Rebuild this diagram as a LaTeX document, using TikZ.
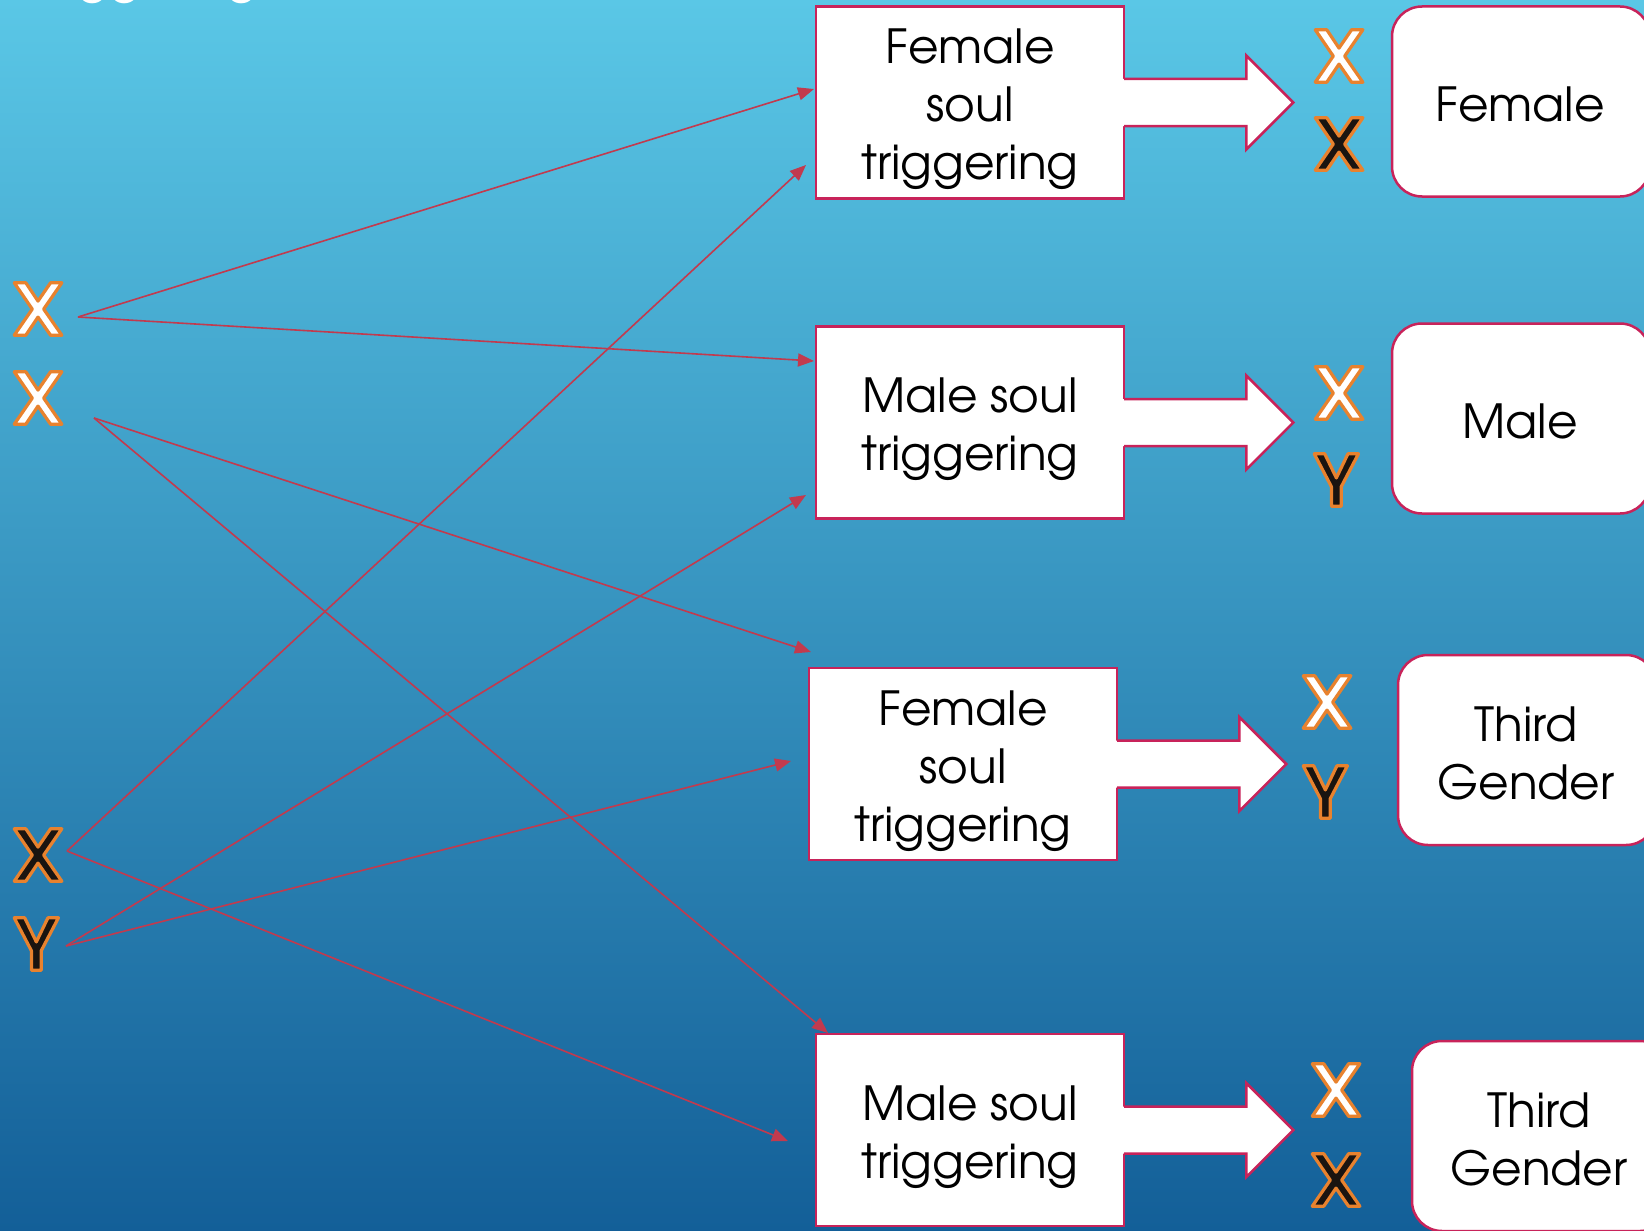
\documentclass[tikz,border=0pt]{standalone}
\usepackage{fontspec}
\setmainfont{TeX Gyre Adventor}
\usetikzlibrary{arrows.meta,calc}
\definecolor{bgtop}{HTML}{5AC7E6}
\definecolor{bgbot}{HTML}{135F98}
\definecolor{crim}{HTML}{C8235A}
\definecolor{lred}{HTML}{C23A4E}
\definecolor{lorange}{HTML}{E8822E}
\definecolor{pblack}{HTML}{1A1410}
\newcommand\outl[1]{\special{pdf:literal direct 2 Tr 3.2 w 1 j 0.91 0.51 0.18 RG}#1\special{pdf:literal direct 0 Tr}}
\newcommand\blockarrow[1]{%
  \fill[white] ($(#1.east)+(-4,-23.5)$) -- ($(#1.east)+(121,-23.5)$) -- ($(#1.east)+(121,-47)$) -- ($(#1.east)+(168,0)$) -- ($(#1.east)+(121,47)$) -- ($(#1.east)+(121,23.5)$) -- ($(#1.east)+(-4,23.5)$) -- cycle;
  \draw[blk] ($(#1.east)+(-1.25,-23.5)$) -- ($(#1.east)+(121,-23.5)$) -- ($(#1.east)+(121,-47)$) -- ($(#1.east)+(168,0)$) -- ($(#1.east)+(121,47)$) -- ($(#1.east)+(121,23.5)$) -- ($(#1.east)+(-1.25,23.5)$);}
\begin{document}
\begin{tikzpicture}[x=1pt,y=-1pt,
  sbox/.style={draw=crim,line width=2.5pt,fill=white,minimum width=308pt,minimum height=192pt,inner sep=0pt},
  btext/.style={align=center,font=\fontsize{47}{58}\selectfont,inner sep=0pt},
  rbox/.style={sbox,rounded corners=30pt,minimum width=258pt,minimum height=190pt},
  wl/.style={inner sep=0pt,font=\fontsize{71}{71}\selectfont\bfseries,text=white},
  bl/.style={wl,text=pblack},
  conn/.style={draw=lred,line width=1.6pt,-{Triangle[length=16pt,width=13pt]}},
  blk/.style={draw=crim,line width=2.5pt,line join=miter}
]
\useasboundingbox (0,0) rectangle (1644,1231);
\clip (0,0) rectangle (1644,1231);
\shade[top color=bgtop,bottom color=bgbot] (0,0) rectangle (1644,1231);

\node[anchor=base west,text=white,font=\fontsize{48}{48}\selectfont,inner sep=0pt] (ttl) at (36,-6) {triggering};

% boxes
\node[sbox] (b1) at (970,102.5) {};
\node[sbox] (b2) at (970,422.5) {};
\node[sbox] (b3) at (963,764) {};
\node[sbox] (b4) at (970,1130) {};
\node[btext] (t1) at ($(b1)+(0,7)$) {Female\\soul\\triggering};
\node[btext] (t2) at ($(b2)+(0,7)$) {Male soul\\triggering};
\node[btext] (t3) at ($(b3)+(0,7)$) {Female\\soul\\triggering};
\node[btext] (t4) at ($(b4)+(0,7)$) {Male soul\\triggering};

\blockarrow{b1}
\blockarrow{b2}
\blockarrow{b3}
\blockarrow{b4}

% result boxes
\node[rbox] (r1) at (1521,101.5) {};
\node[rbox] (r2) at (1521,418.5) {};
\node[rbox] (r3) at (1527,750) {};
\node[rbox] (r4) at (1541,1136) {};
\node[btext] (s1) at ($(r1)+(-1,3)$) {Female};
\node[btext] (s2) at ($(r2)+(-1,3)$) {Male};
\node[btext] (s3) at ($(r3)+(-1,3)$) {Third\\Gender};
\node[btext] (s4) at ($(r4)+(-2,3)$) {Third\\Gender};

% right letters
\node[wl] (rx1) at (1339,56) {\outl{X}};
\node[bl] (rx2) at (1339,144) {\outl{X}};
\node[wl] (rx3) at (1339,393) {\outl{X}};
\node[bl] (ry3) at (1336,480) {\outl{Y}};
\node[wl] (rx5) at (1327,702) {\outl{X}};
\node[bl] (ry5) at (1325,792) {\outl{Y}};
\node[wl] (rx7) at (1336,1090) {\outl{X}};
\node[bl] (rx8) at (1336,1180) {\outl{X}};

% left letters
\node[wl] (x1) at (38,309) {\outl{X}};
\node[wl] (x2) at (38,398) {\outl{X}};
\node[bl] (x3) at (38,855) {\outl{X}};
\node[bl] (y1) at (36,944) {\outl{Y}};

% connector ends
\coordinate (x1o) at (78,317);
\coordinate (x2o) at (94,418);
\coordinate (x3o) at (67,851);
\coordinate (y1o) at (66,946);
\coordinate (e1) at (814,89);
\coordinate (e2) at (814,361);
\coordinate (e3) at (811,652);
\coordinate (e4) at (828,1033);
\coordinate (e5) at (806,165);
\coordinate (e6) at (788,1141);
\coordinate (e7) at (806,495);
\coordinate (e8) at (791,761);

\draw[conn] (x1o) -- (e1);
\draw[conn] (x1o) -- (e2);
\draw[conn] (x2o) -- (e3);
\draw[conn] (x2o) -- (e4);
\draw[conn] (x3o) -- (e5);
\draw[conn] (x3o) -- (e6);
\draw[conn] (y1o) -- (e7);
\draw[conn] (y1o) -- (e8);
\end{tikzpicture}
\end{document}
